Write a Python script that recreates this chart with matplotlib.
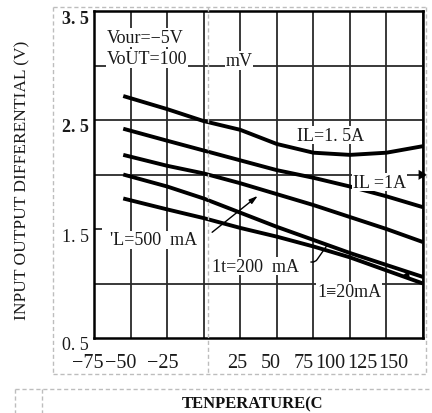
import numpy as np
import matplotlib
matplotlib.use("Agg")
import matplotlib.pyplot as plt
from matplotlib.lines import Line2D
from matplotlib.transforms import offset_copy, blended_transform_factory

# ---- data -------------------------------------------------------------
temps = [-55, -25, 0, 25, 50, 75, 100, 125, 150]
v_1500mA = [2.72, 2.60, 2.49, 2.41, 2.28, 2.20, 2.18, 2.20, 2.26]
v_1000mA = [2.42, 2.31, 2.22, 2.13, 2.04, 1.97, 1.89, 1.80, 1.70]
v_500mA = [2.18, 2.08, 2.01, 1.92, 1.82, 1.72, 1.61, 1.50, 1.38]
v_200mA = [2.00, 1.89, 1.78, 1.65, 1.52, 1.40, 1.28, 1.17, 1.06]
v_20mA = [1.78, 1.68, 1.60, 1.51, 1.43, 1.34, 1.24, 1.12, 1.00]

x_tick_labels = ["\u221275", "\u221250", "\u221225", "25", "50", "75", "100", "125", "150"]
y_tick_labels = ["3. 5", "2. 5", "1. 5", "0. 5"]
y_tick_values = [3.5, 2.5, 1.5, 0.5]
y_grid_levels = [1.0, 2.0, 2.5, 3.0]

# ---- layout -----------------------------------------------------------
W, H = 432, 414
fig = plt.figure(figsize=(W / 100, H / 100), dpi=100)
fig.patch.set_facecolor("white")
ax = fig.add_axes([94 / W, 1 - 339 / H, 329 / W, 327 / H])

SERIF = ["Liberation Serif", "DejaVu Serif"]

ax.set_xlim(-75, 150)
ax.set_ylim(0.5, 3.5)
ax.set_xticks(np.arange(-75, 151, 25))
ax.set_yticks([1.5])
ax.set_xticklabels([])
ax.set_yticklabels([])
ax.tick_params(axis="x", length=0)
ax.tick_params(axis="y", direction="in", length=6, width=1.3, color="#2a2a2a")
ax.grid(True, axis="x", color="#2a2a2a", lw=1.3)
for yl in y_grid_levels:
    ax.axhline(yl, color="#2a2a2a", lw=1.3, zorder=1)
ax.set_axisbelow(True)
for s in ax.spines.values():
    s.set_color("black")
    s.set_linewidth(1.8)

for series in [v_1500mA, v_1000mA, v_500mA, v_200mA, v_20mA]:
    ax.plot(temps, series, color="black", lw=2.8, solid_capstyle="butt", zorder=3)

# tick labels (placed as in the scan)
x_label_pos = [-79, -57, -28, 23, 46, 68.6, 86.4, 108.3, 129.5]
bt = blended_transform_factory(ax.transData, ax.transAxes)
tr_x = offset_copy(bt, fig=fig, y=-25, units="dots")
for xp, lab in zip(x_label_pos, x_tick_labels):
    ax.text(xp, 0, lab, transform=tr_x, ha="center", va="center",
            fontsize=14.5, family=SERIF, color="#1a1a1a")

bt2 = blended_transform_factory(ax.transAxes, ax.transData)
tr_y = offset_copy(bt2, fig=fig, x=-5, y=-7, units="dots")
for yv, lab in zip(y_tick_values, y_tick_labels):
    bold = yv > 2
    ax.text(0, yv, lab, transform=tr_y, ha="right", va="center",
            fontsize=13, family=SERIF, color="#1a1a1a",
            fontweight="bold" if bold else "normal", clip_on=False)

# axis titles
fig.text(22 / W, 1 - 180 / H, "INPUT OUTPUT DIFFERENTIAL (V)", rotation=90,
         ha="center", va="center", fontsize=12.5, family=SERIF, color="#1a1a1a")
fig.text(252 / W, 1 - 404 / H, "TENPERATURE(C", ha="center", va="center",
         fontsize=12, family=SERIF, fontweight="bold", color="#111")

# annotations
box = dict(facecolor="white", edgecolor="none", pad=0.5)
tk = dict(family=SERIF, fontsize=13, color="#1a1a1a", zorder=4)
ax.text(-66, 3.255, "Vour=\u22125V", ha="left", va="center", bbox=box, **tk)
ax.text(-66, 3.064, "VoUT=100", ha="left", va="center", bbox=box, **tk)
ax.text(24, 3.045, "mV", ha="center", va="center", bbox=box, **tk)
ax.text(87, 2.36, "IL=1. 5A", ha="center", va="center", bbox=box, **tk)
ax.text(102, 1.93, "IL =1A", ha="left", va="center", bbox=box, **tk)
ax.text(-64, 1.40, "'L=500  mA", ha="left", va="center", bbox=box, **tk)
ax.text(5.7, 1.16, "1t=200  mA", ha="left", va="center", bbox=box, **tk)
ax.text(77.5, 0.93, "1\u226120mA", ha="left", va="center", bbox=box,
        **{**tk, "family": SERIF + ["DejaVu Sans"]})

ax.annotate("", xy=(38.5, 1.82), xytext=(4.3, 1.454),
            arrowprops=dict(arrowstyle="-|>,head_length=0.5,head_width=0.15",
                            color="black", lw=1.0), zorder=5)
ax.annotate("", xy=(85, 1.362), xytext=(71.4, 1.197),
            arrowprops=dict(arrowstyle="-", color="black", lw=1.0,
                            connectionstyle="angle,angleA=0,angleB=55,rad=3"),
            zorder=5)
ax.annotate("", xy=(146, 1.93), xytext=(150, 2.02),
            arrowprops=dict(arrowstyle="-|>,head_length=0.6,head_width=0.35",
                            color="black", lw=0.1), zorder=5)
ax.annotate("", xy=(133, 1.06), xytext=(138, 1.07),
            arrowprops=dict(arrowstyle="-|>,head_length=0.6,head_width=0.3",
                            color="black", lw=0.1), zorder=5)

# dashed frame artifacts from the scanned document
def dline(x0, y0, x1, y1):
    fig.add_artist(Line2D([x0 / W, x1 / W], [1 - y0 / H, 1 - y1 / H],
                          transform=fig.transFigure, color="#bdbdbd",
                          lw=1.0, ls=(0, (3, 2)), zorder=10))

dline(53, 8, 426, 8)
dline(53, 8, 53, 375)
dline(53, 375, 426, 375)
dline(426, 8, 426, 375)
dline(208, 8, 208, 375)
dline(15, 390, 432, 390)
dline(15, 390, 15, 414)
dline(42, 390, 42, 414)

fig.savefig("out.png", dpi=100, facecolor="white")
